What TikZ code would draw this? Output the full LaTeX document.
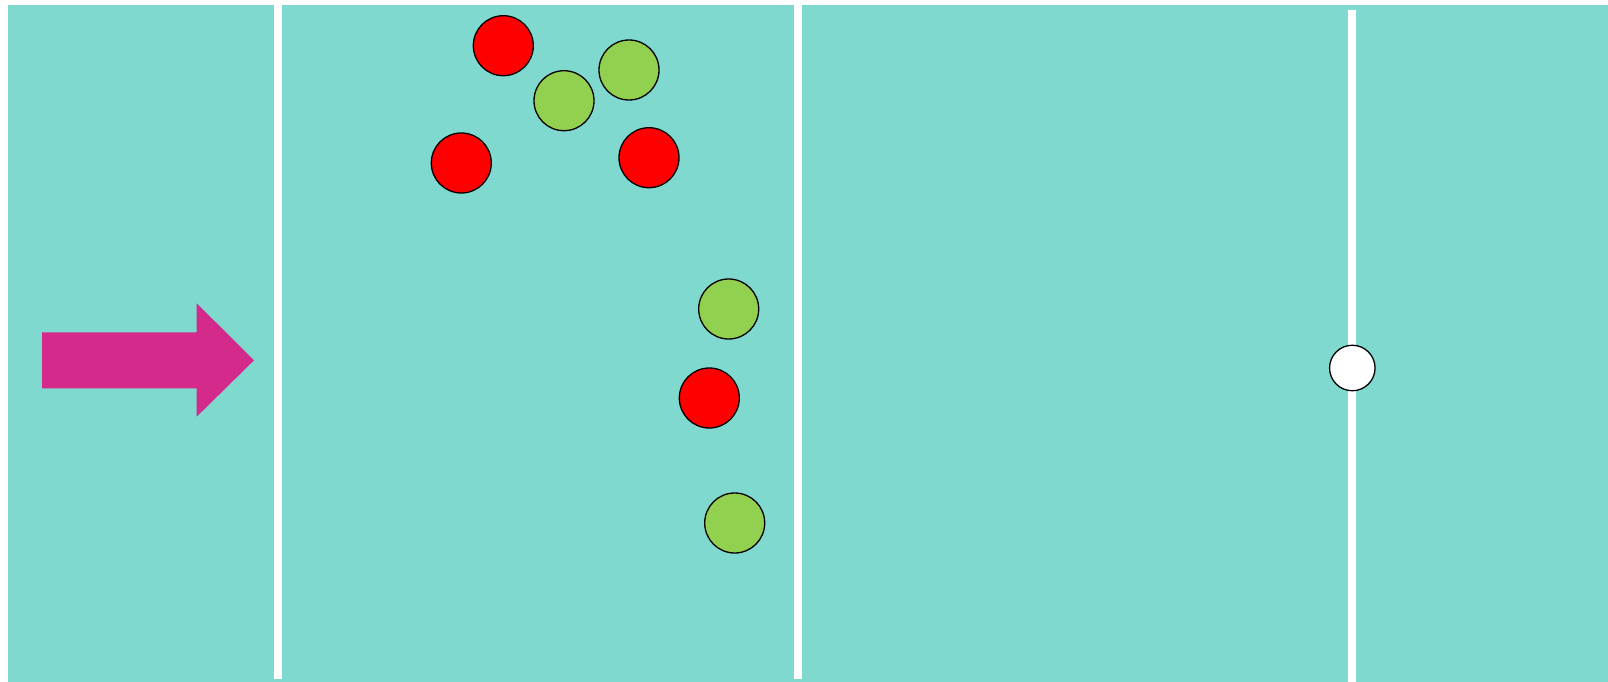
\documentclass[tikz,border=0pt]{standalone}
\begin{document}
\begin{tikzpicture}[x=1pt,y=-1pt,
  ball/.style={circle,draw=black,line width=1.3pt,minimum size=60pt,inner sep=0pt},
  redball/.style={ball,fill=ballred},
  greenball/.style={ball,fill=ballgreen},
  divider/.style={fill=white,draw=none}]
\definecolor{court}{RGB}{128,217,207}
\definecolor{ballred}{RGB}{255,0,0}
\definecolor{ballgreen}{RGB}{146,208,80}
\definecolor{arrowpink}{RGB}{211,42,140}
\useasboundingbox (0,0) rectangle (1608,682);
\fill[white] (0,0) rectangle (1608,682);
\fill[court] (8,5) rectangle (1608,682);
% dividers
\fill[divider] (274,5) rectangle (282,679);
\fill[divider] (794,5) rectangle (802,679);
\fill[divider] (1348.3,10) rectangle (1356.3,682);
% arrow
\fill[arrowpink] (42,332.3) -- (196.7,332.3) -- (196.7,303.3) -- (254,360.3) -- (196.7,416.7) -- (196.7,388.3) -- (42,388.3) -- cycle;
% balls
\node[redball] (r1) at (503.3,45.7) {};
\node[greenball] (g1) at (564,100.7) {};
\node[greenball] (g2) at (629,70) {};
\node[redball] (r2) at (461.3,163) {};
\node[redball] (r3) at (649,157.7) {};
\node[greenball] (g3) at (728.7,309) {};
\node[redball] (r4) at (709.3,398) {};
\node[greenball] (g4) at (734.7,523) {};
\node[ball,fill=white,minimum size=45.5pt] (w) at (1352.3,368) {};
\end{tikzpicture}
\end{document}
